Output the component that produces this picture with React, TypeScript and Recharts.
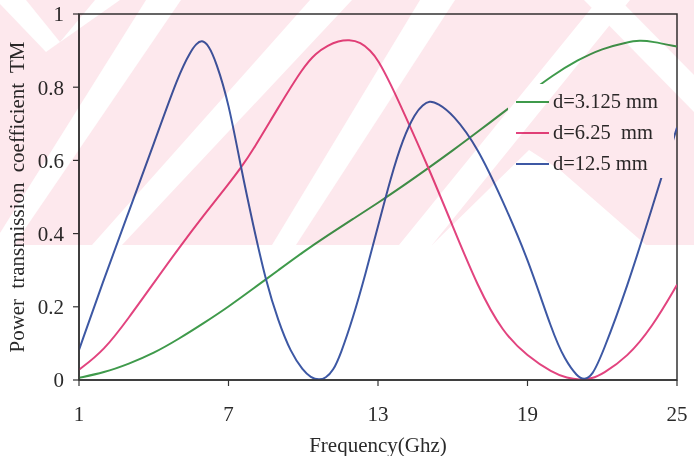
import React from 'react';
import { LineChart, Line, XAxis, YAxis, Legend, ReferenceArea } from 'recharts';

const FONT = '"Liberation Serif", "Times New Roman", serif';

// d = 3.125 mm
const freqD3125 = [1, 2, 3, 4, 5, 6, 7, 8, 9, 10, 11, 12, 13, 14, 15, 16, 17, 18, 19, 20, 21, 22, 23, 23.5, 24, 25];
const tmD3125 = [0.006, 0.02, 0.044, 0.073, 0.112, 0.155, 0.2, 0.25, 0.3, 0.35, 0.396, 0.44, 0.484, 0.53, 0.578, 0.627, 0.678, 0.73, 0.781, 0.832, 0.874, 0.906, 0.923, 0.928, 0.925, 0.911];

// d = 6.25 mm
const freqD625 = [1, 2, 3, 4, 5, 6, 7, 7.5, 8, 9, 10, 10.5, 11, 11.4, 11.84, 12.3, 12.7, 13, 13.5, 14, 15, 16, 17, 18, 19, 20, 20.6, 21.08, 21.6, 22, 23, 24, 25];
const tmD625 = [0.028, 0.08, 0.17, 0.265, 0.36, 0.45, 0.535, 0.58, 0.63, 0.745, 0.855, 0.893, 0.915, 0.926, 0.93, 0.923, 0.9, 0.875, 0.81, 0.736, 0.585, 0.42, 0.255, 0.13, 0.065, 0.02, 0.005, 0, 0.004, 0.016, 0.062, 0.144, 0.26];

// d = 12.5 mm
const freqD125 = [1, 2, 3, 4, 5, 5.5, 5.7, 5.93, 6.2, 6.5, 7, 7.5, 8, 8.5, 9, 9.5, 10, 10.3, 10.63, 10.9, 11.2, 11.5, 12, 12.5, 13, 13.5, 14, 14.5, 14.8, 15.06, 15.4, 16, 17, 18, 19, 20, 20.5, 21, 21.28, 21.6, 22, 23, 24, 25];
const tmD125 = [0.082, 0.276, 0.46, 0.645, 0.836, 0.9, 0.918, 0.93, 0.915, 0.87, 0.76, 0.58, 0.42, 0.27, 0.16, 0.075, 0.025, 0.007, 0, 0.005, 0.025, 0.07, 0.17, 0.29, 0.42, 0.55, 0.66, 0.73, 0.752, 0.763, 0.756, 0.727, 0.636, 0.49, 0.335, 0.13, 0.055, 0.009, 0, 0.012, 0.07, 0.253, 0.47, 0.69];

const seriesNames = ['d=3.125 mm', 'd=6.25  mm', 'd=12.5 mm'];
const seriesColors = ['#3f9a4b', '#e2447f', '#3d58a4'];

const xTicks = [1, 7, 13, 19, 25];
const yTicks = [0, 0.2, 0.4, 0.6, 0.8, 1];

const xTitle = 'Frequency(Ghz)';
const yTitle = 'Power transmission coefficient TM';

const toRows = (fs: number[], vs: number[]) => fs.map((f, i) => ({ f, v: vs[i] }));

const series = [
  { name: seriesNames[0], color: seriesColors[0], data: toRows(freqD3125, tmD3125) },
  { name: seriesNames[1], color: seriesColors[1], data: toRows(freqD625, tmD625) },
  { name: seriesNames[2], color: seriesColors[2], data: toRows(freqD125, tmD125) },
];

function LegendBox() {
  return (
    <div
      style={{
        background: '#fff',
        width: 166,
        height: 94,
        paddingTop: 2,
        boxSizing: 'border-box',
        fontFamily: FONT,
        fontSize: 20.5,
        color: '#2a2a2a',
      }}
    >
      {series.map((s, i) => (
        <div key={i} style={{ display: 'flex', alignItems: 'center', height: 31, whiteSpace: 'pre' }}>
          <svg width={45} height={10} style={{ flex: 'none' }}>
            <line x1={8} x2={41} y1={5} y2={5} stroke={s.color} strokeWidth={2} />
          </svg>
          <span>{s.name}</span>
        </div>
      ))}
    </div>
  );
}

function Watermark() {
  return (
    <div
      style={{
        position: 'absolute',
        left: 0,
        top: 0,
        width: 694,
        height: 245,
        mixBlendMode: 'multiply',
        pointerEvents: 'none',
      }}
    >
      <svg width={694} height={245}>
        <rect x={0} y={0} width={694} height={245} fill="#fde8ed" />
        <g fill="#ffffff">
          <polygon points="0,0 26,0 60,42 46,52 0,4" />
          <polygon points="46,52 60,42 95,0 120,0" />
          <polygon points="146,0 181,0 14,245 0,245 0,233" />
          <polygon points="310,0 352,0 122,245 92,245" />
          <polygon points="420,0 455,0 296,245 272,245" />
          <polygon points="598,0 630,0 432,245 399,245" />
          <polygon points="584,0 620,0 694,75 694,112" />
          <polygon points="432,245 529,150 560,170 646,245" />
        </g>
      </svg>
    </div>
  );
}

export default function App() {
  const tickStyle = { fontFamily: FONT, fontSize: 21, fill: '#2a2a2a' };
  return (
    <div style={{ position: 'absolute', left: 0, top: 0, width: 694, height: 456, background: '#fff' }}>
      <LineChart width={694} height={456} margin={{ top: 14, right: 17, bottom: 0, left: 0 }}>
        <XAxis
          dataKey="f"
          type="number"
          domain={[1, 25]}
          ticks={xTicks}
          allowDataOverflow
          height={76}
          tick={tickStyle}
          tickSize={6}
          tickMargin={20}
          axisLine={{ stroke: '#333', strokeWidth: 1.5 }}
          tickLine={{ stroke: '#333', strokeWidth: 1.2 }}
          label={{
            content: (p: any) => {
              const vb = p.viewBox || { x: 79, y: 380, width: 598, height: 76 };
              return (
                <text
                  x={vb.x + vb.width / 2}
                  y={vb.y + 72}
                  textAnchor="middle"
                  fontFamily={FONT}
                  fontSize={21}
                  fill="#2a2a2a"
                >
                  {xTitle}
                </text>
              );
            },
          }}
        />
        <YAxis
          type="number"
          domain={[0, 1]}
          ticks={yTicks}
          allowDataOverflow
          width={79}
          tick={tickStyle}
          tickSize={6}
          tickMargin={9}
          tickFormatter={(v: number) => String(v)}
          axisLine={{ stroke: '#333', strokeWidth: 1.5 }}
          tickLine={{ stroke: '#333', strokeWidth: 1.2 }}
          label={{
            content: (p: any) => {
              const vb = p.viewBox || { x: 0, y: 14, width: 79, height: 366 };
              const cx = vb.x + 17;
              const cy = vb.y + vb.height / 2;
              return (
                <text
                  x={cx}
                  y={cy}
                  transform={`rotate(-90 ${cx} ${cy})`}
                  textAnchor="middle"
                  dominantBaseline="central"
                  fontFamily={FONT}
                  fontSize={21}
                  fill="#2a2a2a"
                  style={{ wordSpacing: 5 }}
                >
                  {yTitle}
                </text>
              );
            },
          }}
        />
        <ReferenceArea x1={1} x2={25} y1={0} y2={1} fill="none" stroke="#333" strokeWidth={1.5} />
        {series.map((s) => (
          <Line
            key={s.name}
            data={s.data}
            dataKey="v"
            name={s.name}
            type="basis"
            stroke={s.color}
            strokeWidth={2}
            dot={false}
            activeDot={false}
            isAnimationActive={false}
          />
        ))}
        <Legend
          layout="vertical"
          align="center"
          verticalAlign="middle"
          content={() => <LegendBox />}
          wrapperStyle={{ left: 508, top: 84, width: 166, height: 94 }}
        />
      </LineChart>
      <Watermark />
    </div>
  );
}
